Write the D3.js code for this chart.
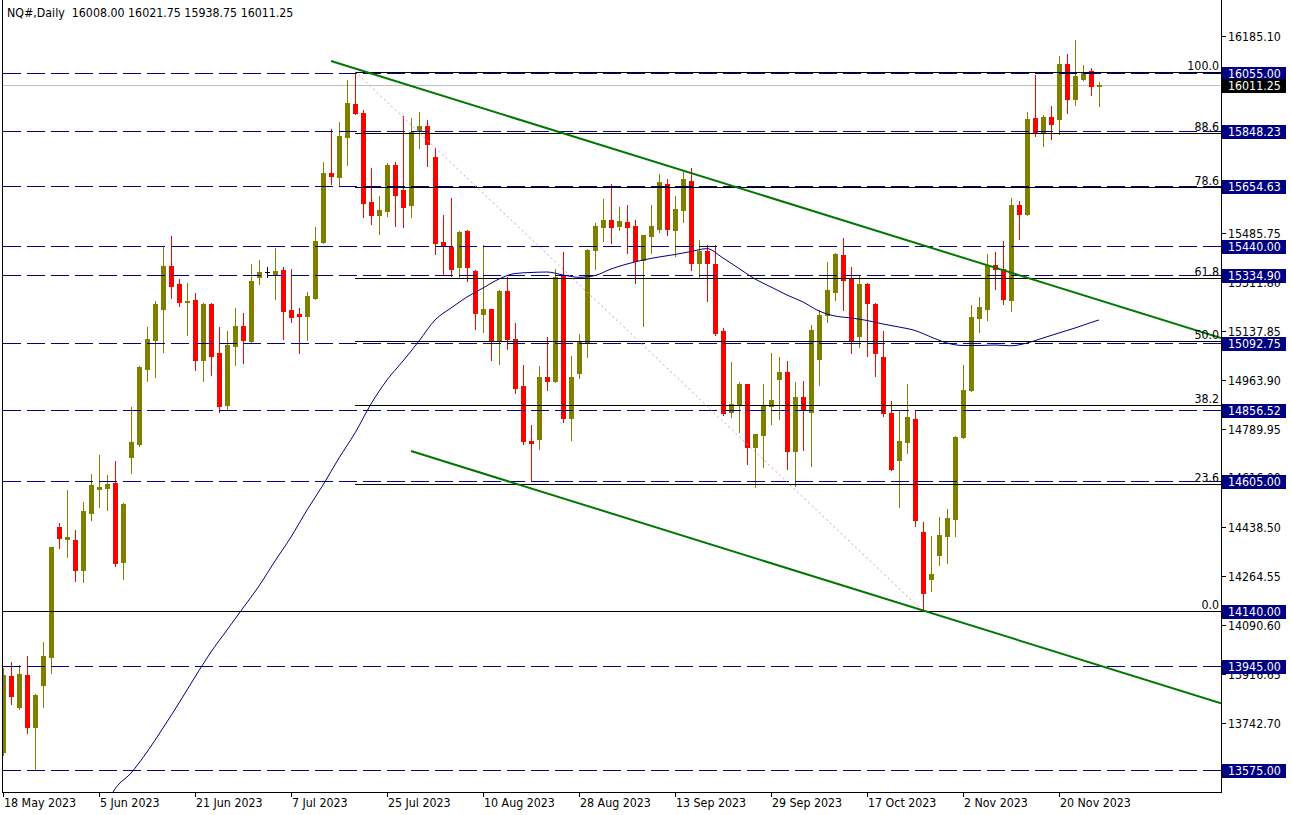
<!DOCTYPE html>
<html><head><meta charset="utf-8">
<script src="https://cdn.jsdelivr.net/npm/d3@7"></script>
<style>
body{margin:0;background:#fff;}
svg{display:block;}
text{font-family:"DejaVu Sans Condensed","DejaVu Sans",sans-serif;font-stretch:condensed;font-size:12.3px;white-space:pre;}
</style></head><body>
<svg id="c" width="1292" height="815"></svg>
<script>
// ---------- DATA ----------
const title = "NQ#,Daily  16008.00 16021.75 15938.75 16011.25";
const opens = [13640,13909.5,13800,13913,13729,13878.5,13978,14439.6,14398,14393.4,
14287.7,14490.5,14576,14579.5,14596,14316,14689.8,14736,15003,15106,
15216.4,15368.3,15304.2,15241.3,15247.3,15034.9,15233,15058.7,14874.8,15084.7,
15154.8,15101.4,15328,15347,15341,15354,15211.7,15197.5,15191.4,15255.5,
15454.7,15699.2,15686,15828.4,15945.8,15913.7,15596,15550.8,15565,15727.7,
15638.7,15586.4,15848.6,15866.4,15756,15453.7,15437,15365.8,15492.8,15350.5,
15198.6,15214.2,15101.4,15279.3,15108.5,14941.3,14744.5,14753.8,14973.3,14960.2,
15336.3,14828.5,14988.6,15095.4,15426.3,15508.1,15532,15511.7,15524.8,15510.6,
15390.7,15476.1,15501,15660,15497.4,15568.6,15670.7,15380,15422.7,15375.4,
15137,14850,14877.3,14948.4,14725.3,14768,14871.2,14967.3,14991.1,14711.1,
14903.2,14850,15038.4,15193.9,15276.8,15407.4,15322,15120.3,15304.2,15233,
15044.5,14845.2,14679.1,14743.1,14823.9,14421.8,14253.2,14338.9,14408.7,14468.8,
14759.1,14926.4,15185,15214.2,15372.2,15356.2,15248,15586.4,15553,15895.6,
15842.2,15899.9,15891.7,16088.4,15963.9,16035.1,16061.8,16008];
const highs = [13938,13959.3,13947.5,13980.6,13845.5,14030.4,14370,14454,14571.3,14429,
14528.6,14628,14695.8,14624.6,14674.5,14524,14866.6,15012.5,15151.2,15243.8,
15437,15475,15322,15307.8,15272.2,15236.6,15236,15151.2,15137,15218.8,
15201,15375.4,15389.6,15365.8,15432.3,15365.8,15357.6,15218.8,15275.8,15508,
15738.3,15854.7,15880.7,16030,16060,15923.4,15717,15617.4,15734.8,15738.3,
15902,15895,15916.2,15887.8,15788,15550.8,15611.3,15491.7,15496.4,15354,
15442,15215.3,15282.9,15330.2,15165.5,15016,14802.5,15012.5,15115.7,15358.7,
15418,15048,15126.3,15428.8,15522.4,15606.7,15660,15578.2,15585.3,15532,
15480,15585.3,15695.6,15677.8,15617.4,15709.9,15717,15461.9,15443,15443,
15147.7,15026.7,14955.5,14950,14772,14948.4,15058.7,15044.5,15030.3,14955.5,
14959.1,15158.4,15211.7,15382.5,15414.5,15467.9,15364.7,15336.3,15307.8,15235,
15137,14887.9,14853.4,14948.4,14855.9,14457.4,14408.7,14475.2,14504.7,14765,
15017.5,15230.2,15258,15412.4,15419.2,15455.5,15612,15601.3,15917,16048.2,
15906.3,15938.3,16116.6,16123.3,16172.8,16083.1,16073.9,16021.75];
const lows = [13628,13810.9,13793,13707.7,13575,13800,13921,14366,14334,14248.5,
14245,14465.6,14511.8,14501,14301,14255.7,14632.8,14729,14960,14974.4,
15063.4,15255.5,15227,15123.8,14999.3,14960,14981.5,14850,14860.5,15017,
15024.2,15095.4,15304.2,15330.2,15252,15109.6,15170,15059.8,15106,15252,
15451.2,15661,15657.6,15728.7,15908,15543.7,15518.8,15483.2,15547.3,15511.7,
15508.1,15543.7,15789.2,15725.2,15412,15337.3,15333.8,15330.2,15314.9,15145.2,
15134.5,15034.9,15020.6,15074,14917.5,14736,14606,14718.2,14928.2,14956.6,
14814.3,14750.2,14971,15045.6,15358.7,15458.3,15451.2,15496.4,15415.6,15308.9,
15155.9,15415.6,15490.3,15479.6,15402.8,15525.9,15355.1,15326.7,15244.8,15123.8,
14839.2,14832.1,14778.7,14664.8,14583,14654.2,14807.2,14825,14647.1,14586.6,
14714.7,14657.7,14945.9,15170,15248.4,15212.8,15059.8,15081.1,15049.1,14978,
14835.6,14643.5,14511.8,14704,14444.2,14140,14210.5,14305.5,14310.5,14408.7,
14755,14922,15135.2,15175.4,15285.4,15234.1,15206.4,15463.3,15549,15830.1,
15793.8,15820.9,15838.3,15911.6,15939.7,16030.8,15978.5,15938.75];
const closes = [13913,13839.4,13916.6,13729,13842,13980.6,14368.5,14401.5,14404,14287.7,
14496.6,14589,14582,14592.6,14312.6,14521.5,14742,15008.9,15108.5,15233,
15368.3,15298.2,15241.3,15244.8,15034.9,15233,15049,14871.2,15087.2,15154.8,
15105,15315,15347,15347,15350.5,15209.2,15187.9,15191.4,15261.5,15457.2,
15699.2,15689.6,15830.8,15948.3,15913.7,15593.5,15550.8,15567.5,15727.7,15622,
15579.3,15846.1,15866.4,15803.4,15451.2,15444,15358.7,15489.3,15364.7,15202.1,
15214.2,15101.4,15279.3,15109.6,14935.3,14746.7,14739.6,14973.3,14960.2,15330.2,
14828.5,14973.3,15098.9,15425.2,15510.6,15532,15508.1,15528.4,15508.1,15387.1,
15478.6,15510.6,15667.2,15501,15571.1,15677.8,15380,15422.7,15380,15131,
14846.3,14877.3,14948.4,14725.3,14770.5,14871.2,14891.5,14991.1,14711.1,14903.2,
14855.9,15140.6,15193.9,15282.9,15411,15319.5,15106,15304.2,15237.7,15059.8,
14846.3,14647.1,14745.6,14831,14465.6,14205.8,14272.4,14412.6,14472.7,14760.6,
14927.8,15187.5,15223.8,15372.2,15356.2,15251.9,15583.9,15554.4,15891.7,15842.2,
15899.9,15872.8,16088.4,15963.9,16045.7,16057.8,16008,16011.25];

// moving average : bar index / value
const maBars = [13,14,16,18,20,22,24,26,28,30,32,34,36,38,40,42,44,46,48,50,52,54,56,58,60,62,64,66,68,70,72,74,76,78,80,82,84,86,88,90,92,94,96,98,100,102,104,106,108,110,112,114,116,118,120,122,124,126,128,130,132,134,136,137];
const maVals = [13457.6,13507.4,13564.3,13639.1,13724.4,13813.4,13905.9,13994.9,14073.1,14151.4,14229.7,14318.6,14404,14500.1,14589.1,14685.1,14774.1,14877.3,14962.7,15030.3,15101.4,15176.2,15218.8,15258,15290,15322,15341.6,15345.2,15346.9,15336.3,15328.1,15334.5,15357.6,15375.4,15389.6,15400.3,15409.2,15419.9,15430,15396.8,15359.4,15322,15293.6,15265.1,15240.2,15208.2,15190.4,15183.3,15174.4,15161.9,15151.2,15138.8,15115.7,15094.3,15085.4,15085.4,15087.2,15084.4,15094.3,15112.1,15129.9,15147.7,15167.3,15176.2];

// horizontal levels (dashed) and price tags
const hLevels = [16055.00,15848.23,15654.63,15440.00,15334.90,15092.75,14856.52,14605.00,13945.00,13575.00];
const solidLevels = [14140.00];
const lastPrice = 16011.25;

// fibonacci retracement
const fibHigh = 16060, fibLow = 14140, fibStartBar = 44, fibEndBar = 115;
const fibRatios = [100.0,88.6,78.6,61.8,50.0,38.2,23.6,0.0];

// trend channel (bar index, price)
const trendUpper = [[41,16097.7],[152.25,15112.1]];
const trendLower = [[51,14710],[152.25,13812.3]];

// axes
const yTickMarks = [16185.10,16011.15,15837.20,15663.25,15485.75,15311.80,15137.85,14963.90,14789.95,14616.00,14438.50,14264.55,14090.60,13916.65,13742.70];
const yTickLabels = ["16185.10","15485.75","15311.80","15137.85","14963.90","14789.95","14616.00","14438.50","14264.55","14090.60","13916.65","13742.70"];
const dateTicks = ["18 May 2023","5 Jun 2023","21 Jun 2023","7 Jul 2023","25 Jul 2023","10 Aug 2023","28 Aug 2023","13 Sep 2023","29 Sep 2023","17 Oct 2023","2 Nov 2023","20 Nov 2023"];

// trading-day calendar (weekdays) for the bars
const mon = ["Jan","Feb","Mar","Apr","May","Jun","Jul","Aug","Sep","Oct","Nov","Dec"];
const barDates = [];
for (let d = new Date(Date.UTC(2023,4,18)); barDates.length < opens.length; d = new Date(d.getTime()+86400000)) {
  const wd = d.getUTCDay(); if (wd===0||wd===6) continue;
  barDates.push(d.getUTCDate()+" "+mon[d.getUTCMonth()]+" "+d.getUTCFullYear());
}

// ---------- DRAW ----------
const svg = d3.select("#c");
const L = 3, R = 1221, B = 792;
const x = d3.scaleLinear().domain([0,137]).range([3,1099]);
const y = d3.scaleLinear().domain([13575,16055]).range([770,73]);
const navy = "#000080", olive = "#808000", red = "#ff0000";

svg.append("rect").attr("width",1292).attr("height",815).attr("fill","#fff");
svg.append("defs").append("clipPath").attr("id","clip")
  .append("rect").attr("x",L).attr("y",0).attr("width",R-L).attr("height",B);
const g = svg.append("g").attr("clip-path","url(#clip)");

// last price line
g.append("line").attr("x1",L).attr("x2",R)
  .attr("y1",Math.round(y(lastPrice))+0.5).attr("y2",Math.round(y(lastPrice))+0.5)
  .attr("stroke","#c0c0c0").attr("stroke-width",1);

// candles
const bars = d3.range(opens.length).map(i=>({i,o:opens[i],h:highs[i],l:lows[i],c:closes[i]}));
const cg = g.append("g");
bars.forEach(b=>{
  const cx = Math.round(x(b.i));
  const col = b.c>b.o ? olive : (b.c<b.o ? red : "#000");
  cg.append("line").attr("x1",cx+0.5).attr("x2",cx+0.5)
    .attr("y1",Math.round(y(b.h))).attr("y2",Math.round(y(b.l))+1)
    .attr("stroke",col).attr("stroke-width",1);
  const t = Math.round(y(Math.max(b.o,b.c))), bt = Math.round(y(Math.min(b.o,b.c)));
  cg.append("rect").attr("x",cx-2).attr("width",5)
    .attr("y",t).attr("height",Math.max(1,bt-t+1)).attr("fill",col);
});

// moving average
g.append("path").datum(maBars.map((b,k)=>[b,maVals[k]]))
  .attr("d",d3.line().x(d=>x(d[0])).y(d=>y(d[1])).curve(d3.curveMonotoneX))
  .attr("fill","none").attr("stroke",navy).attr("stroke-width",1);

// horizontal dashed levels
hLevels.forEach(v=>{
  const yy = Math.round(y(v))+0.5;
  g.append("line").attr("x1",L).attr("x2",R).attr("y1",yy).attr("y2",yy)
    .attr("stroke",navy).attr("stroke-width",1).attr("stroke-dasharray","18,6");
});
solidLevels.forEach(v=>{
  const yy = Math.round(y(v))+0.5;
  g.append("line").attr("x1",L).attr("x2",R).attr("y1",yy).attr("y2",yy)
    .attr("stroke","#000").attr("stroke-width",1);
});

// fib levels
const fibVal = r => fibLow + (fibHigh-fibLow)*r/100;
fibRatios.forEach(r=>{
  const yy = Math.round(y(fibVal(r)))+0.5;
  g.append("line").attr("x1",x(fibStartBar)).attr("x2",R).attr("y1",yy).attr("y2",yy)
    .attr("stroke","#000").attr("stroke-width",1);
});
g.append("line").attr("x1",x(fibStartBar)).attr("y1",y(fibHigh))
  .attr("x2",x(fibEndBar)).attr("y2",y(fibLow))
  .attr("stroke","#d890d8").attr("stroke-width",1).attr("stroke-dasharray","2,3");

// trend channel
[trendUpper,trendLower].forEach(t=>{
  g.append("line").attr("x1",x(t[0][0])).attr("y1",y(t[0][1]))
    .attr("x2",x(t[1][0])).attr("y2",y(t[1][1]))
    .attr("stroke","#007800").attr("stroke-width",2);
});

// fib labels
fibRatios.forEach(r=>{
  svg.append("text").attr("x",1219).attr("y",Math.round(y(fibVal(r)))-2)
    .attr("text-anchor","end").attr("fill","#000").text(r.toFixed(1));
});

// frame
svg.append("line").attr("x1",2.5).attr("x2",2.5).attr("y1",0).attr("y2",B+0.5).attr("stroke","#000");
svg.append("line").attr("x1",R+0.5).attr("x2",R+0.5).attr("y1",0).attr("y2",B+0.5).attr("stroke","#000");
svg.append("line").attr("x1",2).attr("x2",R+1).attr("y1",B+0.5).attr("y2",B+0.5).attr("stroke","#000");

// right axis
yTickMarks.forEach(v=>{
  const yy = Math.round(y(v))+0.5;
  svg.append("line").attr("x1",R+1).attr("x2",R+5).attr("y1",yy).attr("y2",yy).attr("stroke","#000");
});
yTickLabels.forEach(s=>{
  const yy = Math.round(y(+s))+0.5;
  svg.append("text").attr("x",1228).attr("y",yy+4).attr("fill","#000").text(s);
});
// price tags
function tag(v,bg){
  const yy = Math.round(y(v));
  svg.append("rect").attr("x",1222).attr("y",yy-6).attr("width",64).attr("height",14).attr("fill",bg);
  svg.append("text").attr("x",1228).attr("y",yy+5).attr("fill","#fff").text(v.toFixed(2));
}
hLevels.concat(solidLevels).forEach(v=>tag(v,navy));
tag(lastPrice,"#000");

// bottom axis
dateTicks.forEach(s=>{
  const i = barDates.indexOf(s);
  const xx = Math.round(x(i))+0.5;
  svg.append("line").attr("x1",xx).attr("x2",xx).attr("y1",B).attr("y2",B+5).attr("stroke","#000");
  svg.append("text").attr("x",xx+0.5).attr("y",807).attr("fill","#000").text(s);
});

// title
svg.append("text").attr("x",7).attr("y",17).attr("fill","#000").text(title);
</script>
</body></html>
